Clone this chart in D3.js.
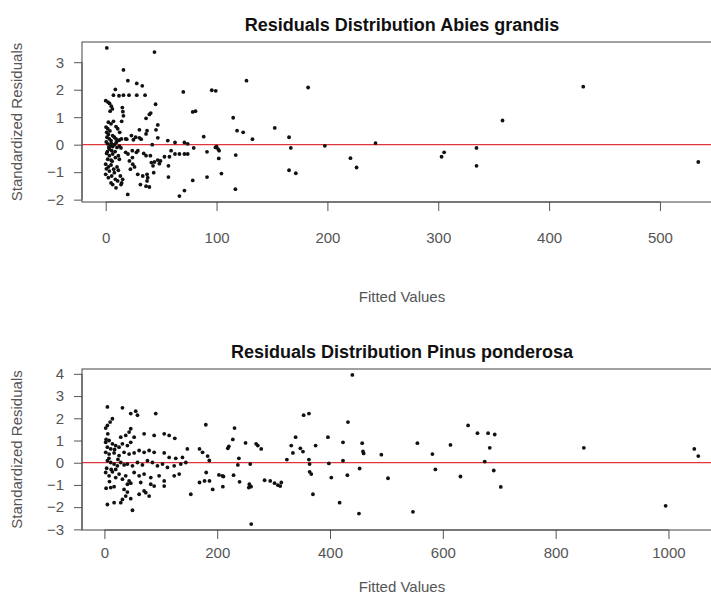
<!DOCTYPE html>
<html>
<head>
<meta charset="utf-8">
<script src="https://cdn.jsdelivr.net/npm/d3@7/dist/d3.min.js"></script>
<style>
  body { margin: 0; background: #fff; }
  svg { display: block; font-family: 'Liberation Sans', Arial, sans-serif; }
</style>
</head>
<body>
<svg id="chart" width="711" height="601"></svg>
<script>
// [fitted value, standardized residual]
const abiesPoints = [
  [1, 3.52], [44, 3.37], [16, 2.72], [20, 2.33], [28, 2.23], [33, 2.14], [8.7, 2.01],
  [7, 1.8], [12, 1.78], [16, 1.8], [21, 1.8], [28, 1.8], [35.5, 1.8],
  [70, 1.92], [95.7, 1.98], [99.3, 1.96], [127, 2.33], [182.6, 2.08], [430.8, 2.11],
  [0, 1.6], [2, 1.55], [3.5, 1.5], [5, 1.4], [6, 1.3], [4, 1.22],
  [15, 1.35], [15.5, 1.2], [16, 1.05], [45, 1.47], [78.5, 1.19], [81, 1.22], [40.6, 1.15], [39.4, 1.1],
  [7, 0.85], [14.4, 0.85], [36.4, 0.96], [47, 0.72], [30.4, 0.54], [37.3, 0.51], [36.4, 0.39],
  [45.4, 0.54], [47, 0.25], [115, 0.98], [118.5, 0.51], [124, 0.45], [132.4, 0.2], [152.5, 0.61],
  [165.4, 0.27], [358, 0.88],
  [19, 0.2], [25, 0.18], [30.4, 0.25], [32, 0.2], [56, 0.15], [62.5, 0.08], [71, 0.08], [74, 0.03],
  [79.4, -0.12], [88.4, 0.29], [99, -0.1], [42, 0],
  [24, -0.22], [29, -0.22], [59, -0.22], [62.5, -0.34], [66.5, -0.34], [71, -0.34], [74, -0.34], [91.4, -0.26],
  [36.4, -0.4], [40.3, -0.4], [47, -0.56], [48.4, -0.69], [44, -0.63], [57.5, -0.44], [53, -0.44], [56.6, -0.77],
  [21.4, -0.59], [24.4, -0.71], [26, -0.81], [22.3, -0.89],
  [28.9, -1.08], [33.4, -1.14], [37.3, -1.08], [37.9, -1.2], [37.3, -1.32],
  [31.3, -1.45], [36.4, -1.51], [39.4, -1.54],
  [56.6, -1.18], [78.5, -1.3], [91.4, -1.18], [71, -1.67], [66.5, -1.87], [19.9, -1.81],
  [14.4, -1.39], [15.3, -1.26], [13.8, -1.45],
  [100, -0.07], [101.4, -0.16], [102.3, -0.22], [167, -0.12], [197.7, -0.04], [243.4, 0.06],
  [102, -0.5], [117.3, -0.38], [220.8, -0.49], [226.3, -0.83], [104.4, -1.05], [165.4, -0.93],
  [171.5, -1.04], [117, -1.62],
  [303, -0.44], [305.3, -0.28], [334.5, -0.12], [334.5, -0.77], [534.6, -0.63],
  [12.6, 0.45], [14.2, 0.21], [18, 0.21], [23.2, 0.33], [27, 0.27],
  [27.7, -0.28], [34.3, -0.32], [41.2, -0.65], [49.4, -0.59], [18, -0.28], [20.1, -0.34], [24.1, -0.47],
  [42.7, -0.77], [43.3, -1.02],
  [0.3, 0.64], [1.8, 0.58], [0.9, 0.45], [2.4, 0.37], [1.2, 0.27], [3.3, 0.21], [4.8, 0.15],
  [6.3, 0.33], [7.8, 0.27], [9.3, 0.21], [10.8, 0.15], [12.4, 0.17],
  [1.8, 0.03], [4.2, -0.04], [6.3, -0.07], [7.8, 0], [10.2, -0.1], [12.4, -0.05], [13.8, -0.12],
  [3.3, -0.16], [5.4, -0.22],
  [0.9, -0.32], [3.3, -0.4], [6.3, -0.34], [8.7, -0.47], [11.4, -0.4], [1.8, -0.53], [4.8, -0.56], [12.3, -0.53],
  [0, -0.71], [2.4, -0.81], [4.8, -0.74], [7.2, -0.89], [10.2, -0.81], [3.3, -0.96], [7.8, -1.02], [11.4, -0.93],
  [0, -1.08], [2.4, -1.2], [5.4, -1.14], [8.7, -1.26], [4.8, -1.39], [10.8, -1.32], [13.2, -1.14],
  [6.3, -1.45], [9.3, -1.57],
  [2.4, 0.82], [4.8, 0.76], [9.3, 0.66], [10.8, 0.58],
  [0.5, 0.1], [2.8, -0.1], [5, 0.05], [8.5, -0.25], [1.5, -0.25], [9.5, 0.08], [3.8, 0.5],
  [0.6, -0.88], [5.8, -0.6]
];

const pinusPoints = [
  [5.3, 2.51], [32, 2.47], [46.7, 2.21], [55.5, 2.32], [58.6, 2.14], [91, 2.21],
  [14.2, 1.98], [10.1, 1.83], [5.3, 1.68], [2.3, 1.56], [46.7, 1.53], [43.8, 1.38],
  [29, 1.15], [37.8, 1.23], [52.7, 1.15], [70.4, 1.3], [88.2, 1.23], [106, 1.3], [114.8, 1.23], [124.8, 1.1],
  [179.8, 1.71],
  [2.3, 0.92], [8.3, 1.0], [14.2, 0.85], [5.3, 0.7], [11.2, 0.62], [20, 0.77], [26, 0.7], [31.9, 0.85],
  [40.8, 0.77], [46.7, 0.92],
  [2.3, 0.47], [8.3, 0.39], [17.2, 0.44], [26, 0.32], [34.9, 0.47], [43.8, 0.39], [52.7, 0.44], [61.6, 0.55],
  [70.4, 0.47], [79.3, 0.55], [88.2, 0.47], [106, 0.44], [114.8, 0.24], [126.5, 0.2], [138.4, 0.24],
  [5.3, 0.09], [11.2, 0.01], [17.2, -0.06], [23, -0.14], [29, 0.01], [35, -0.1], [40.8, -0.06], [49.7, -0.14],
  [58.6, 0.01], [67.4, -0.1], [76.3, 0.09], [85.2, 0.01], [94, -0.14], [103, -0.06], [111.8, -0.21],
  [123.7, -0.14], [135.4, -0.06], [144.3, 0.01],
  [2.3, -0.44], [8.3, -0.59], [14.2, -0.41], [20, -0.67], [26, -0.51], [32, -0.74], [37.8, -0.59], [43.8, -0.82],
  [52.7, -0.44], [61.6, -0.59], [70.4, -0.51], [82.2, -0.67], [97, -0.59], [106, -0.82], [123.7, -0.59], [132.6, -0.51],
  [11.2, -1.12], [17.2, -1.08], [34.9, -1.2], [40.8, -0.97], [46.7, -0.92], [64.4, -0.89], [70.4, -1.27],
  [82.2, -0.97], [88.2, -1.05], [106, -1.05],
  [40.8, -1.32], [37.8, -1.5], [32, -1.65], [29, -1.8], [17.2, -1.8], [5.3, -1.88], [46.7, -1.62], [49.7, -2.14],
  [61.6, -1.42], [73.3, -1.35], [79.3, -1.5], [153.2, -1.42],
  [147, 0.62], [168.6, 0.62], [174, 0.47], [183, 0.3], [186, 0.1], [180.5, -0.44], [168.6, -0.89], [177.5, -0.82],
  [186.3, -0.82], [192, -1.2], [203, -0.55], [209, -0.59], [211, -0.62], [210, -1.08],
  [230.7, 1.56], [227.7, 1.05], [220.6, 0.74], [218.8, 0.65], [250.2, 0.89], [269, 0.85], [272, 0.77], [278, 0.62],
  [238.4, 0.2], [236.6, -0.1], [258.5, -0.06], [229, -0.56], [239.6, -0.86], [257, -0.97], [260, -1.08], [256, -1.12],
  [284, -0.79], [294, -0.82], [301.7, -0.92], [307.6, -1.01], [311.7, -1.05], [313.6, -0.89], [260.3, -2.76],
  [323.5, 0.14], [331.3, 0.77], [334.2, 0.44], [339, 1.15], [347.3, 0.65], [352, 0.5], [353.2, 2.14], [362.6, 2.21],
  [374.4, 0.77], [362.6, 0.14], [363.8, -0.06], [363.8, -0.41], [366.8, -0.51], [369.7, -1.42],
  [396.3, 1.15], [398, -0.03], [402.3, -0.67], [417, -1.8], [423, 0.92], [423, 0.09], [431.8, 1.83], [430.7, -0.56],
  [439.6, 3.95], [451.3, -2.29], [452.5, -0.26], [457, 0.88], [458.4, 0.51], [459.6, 0.42],
  [491, 0.36], [502.8, -0.7], [547, -2.21], [554.9, 0.88], [581.5, 0.39], [586.8, -0.3], [613.5, 0.8],
  [631.2, -0.62], [644.8, 1.68], [661.4, 1.33], [674.3, 0.05], [680.2, 1.33], [692, 1.27], [683.2, 0.67],
  [690.3, -0.35], [702.7, -1.09], [850, 0.67], [995, -1.94], [1045.8, 0.62], [1052.9, 0.3],
  [6, 1.3], [3, 1.05], [8, 0.2], [12, -0.3], [4, -0.25], [9, -0.85], [20, -0.3], [24, 0.15], [18, 0.6], [3, -1.15]
];

const abiesXTicks = [0, 100, 200, 300, 400, 500];
const abiesYTicks = [-2, -1, 0, 1, 2, 3];
const pinusXTicks = [0, 200, 400, 600, 800, 1000];
const pinusYTicks = [-3, -2, -1, 0, 1, 2, 3, 4];

const LEFT = 82;
const RIGHT = 722;
const svg = d3.select('#chart');
const plain = d3.format('d');

// R style axis limits: data range plus 4% on each side
function rRange(vals) {
  const [lo, hi] = d3.extent(vals);
  const pad = (hi - lo) * 0.04;
  return [lo - pad, hi + pad];
}

function drawPanel(cfg) {
  const { points, xTicks, yTicks, title, top, bottom, titleY, xLabelPad, xTitleY } = cfg;
  const x = d3.scaleLinear().domain(rRange(points.map(d => d[0]))).range([LEFT, RIGHT]);
  const y = d3.scaleLinear().domain(rRange(points.map(d => d[1]))).range([bottom, top]);
  const g = svg.append('g');

  g.append('text')
    .attr('x', (LEFT + RIGHT) / 2)
    .attr('y', titleY)
    .attr('text-anchor', 'middle')
    .style('font-size', '18px')
    .style('font-weight', 'bold')
    .style('fill', '#111')
    .text(title);

  const xAxis = g.append('g')
    .attr('transform', `translate(0, ${bottom})`)
    .call(d3.axisBottom(x).tickValues(xTicks).tickFormat(plain)
      .tickSize(9).tickPadding(xLabelPad).tickSizeOuter(0));
  const yAxis = g.append('g')
    .attr('transform', `translate(${LEFT}, 0)`)
    .call(d3.axisLeft(y).tickValues(yTicks).tickFormat(plain)
      .tickSize(8).tickPadding(10).tickSizeOuter(0));
  for (const ax of [xAxis, yAxis]) {
    ax.select('.domain').remove();
    ax.selectAll('line').attr('stroke', '#555');
    ax.selectAll('text')
      .style('font-size', '15px')
      .style('font-family', "'Liberation Sans', Arial, sans-serif")
      .style('fill', '#555');
  }
  // axis lines spanning first to last tick
  g.append('line')
    .attr('x1', x(xTicks[0])).attr('x2', x(xTicks[xTicks.length - 1]))
    .attr('y1', bottom).attr('y2', bottom)
    .attr('stroke', '#555');
  g.append('line')
    .attr('x1', LEFT).attr('x2', LEFT)
    .attr('y1', y(yTicks[0])).attr('y2', y(yTicks[yTicks.length - 1]))
    .attr('stroke', '#555');

  g.append('text')
    .attr('x', (LEFT + RIGHT) / 2)
    .attr('y', xTitleY)
    .attr('text-anchor', 'middle')
    .style('font-size', '15px')
    .style('fill', '#555')
    .text('Fitted Values');

  g.append('text')
    .attr('transform', `translate(22, ${(top + bottom) / 2}) rotate(-90)`)
    .attr('text-anchor', 'middle')
    .style('font-size', '15px')
    .style('fill', '#555')
    .text('Standardized Residuals');

  g.append('line')
    .attr('x1', LEFT).attr('x2', RIGHT)
    .attr('y1', y(0)).attr('y2', y(0))
    .attr('stroke', '#e0353c')
    .attr('stroke-width', 1.2);

  g.append('g')
    .selectAll('circle')
    .data(points)
    .join('circle')
    .attr('cx', d => x(d[0]))
    .attr('cy', d => y(d[1]))
    .attr('r', 1.9)
    .attr('fill', '#111');

  g.append('rect')
    .attr('x', LEFT).attr('y', top)
    .attr('width', RIGHT - LEFT).attr('height', bottom - top)
    .attr('fill', 'none')
    .attr('stroke', '#444');
}

drawPanel({
  points: abiesPoints, xTicks: abiesXTicks, yTicks: abiesYTicks,
  title: 'Residuals Distribution Abies grandis',
  top: 42, bottom: 202, titleY: 31, xLabelPad: 21, xTitleY: 302
});

drawPanel({
  points: pinusPoints, xTicks: pinusXTicks, yTicks: pinusYTicks,
  title: 'Residuals Distribution Pinus ponderosa',
  top: 369, bottom: 530, titleY: 358, xLabelPad: 8, xTitleY: 592
});
</script>
</body>
</html>
